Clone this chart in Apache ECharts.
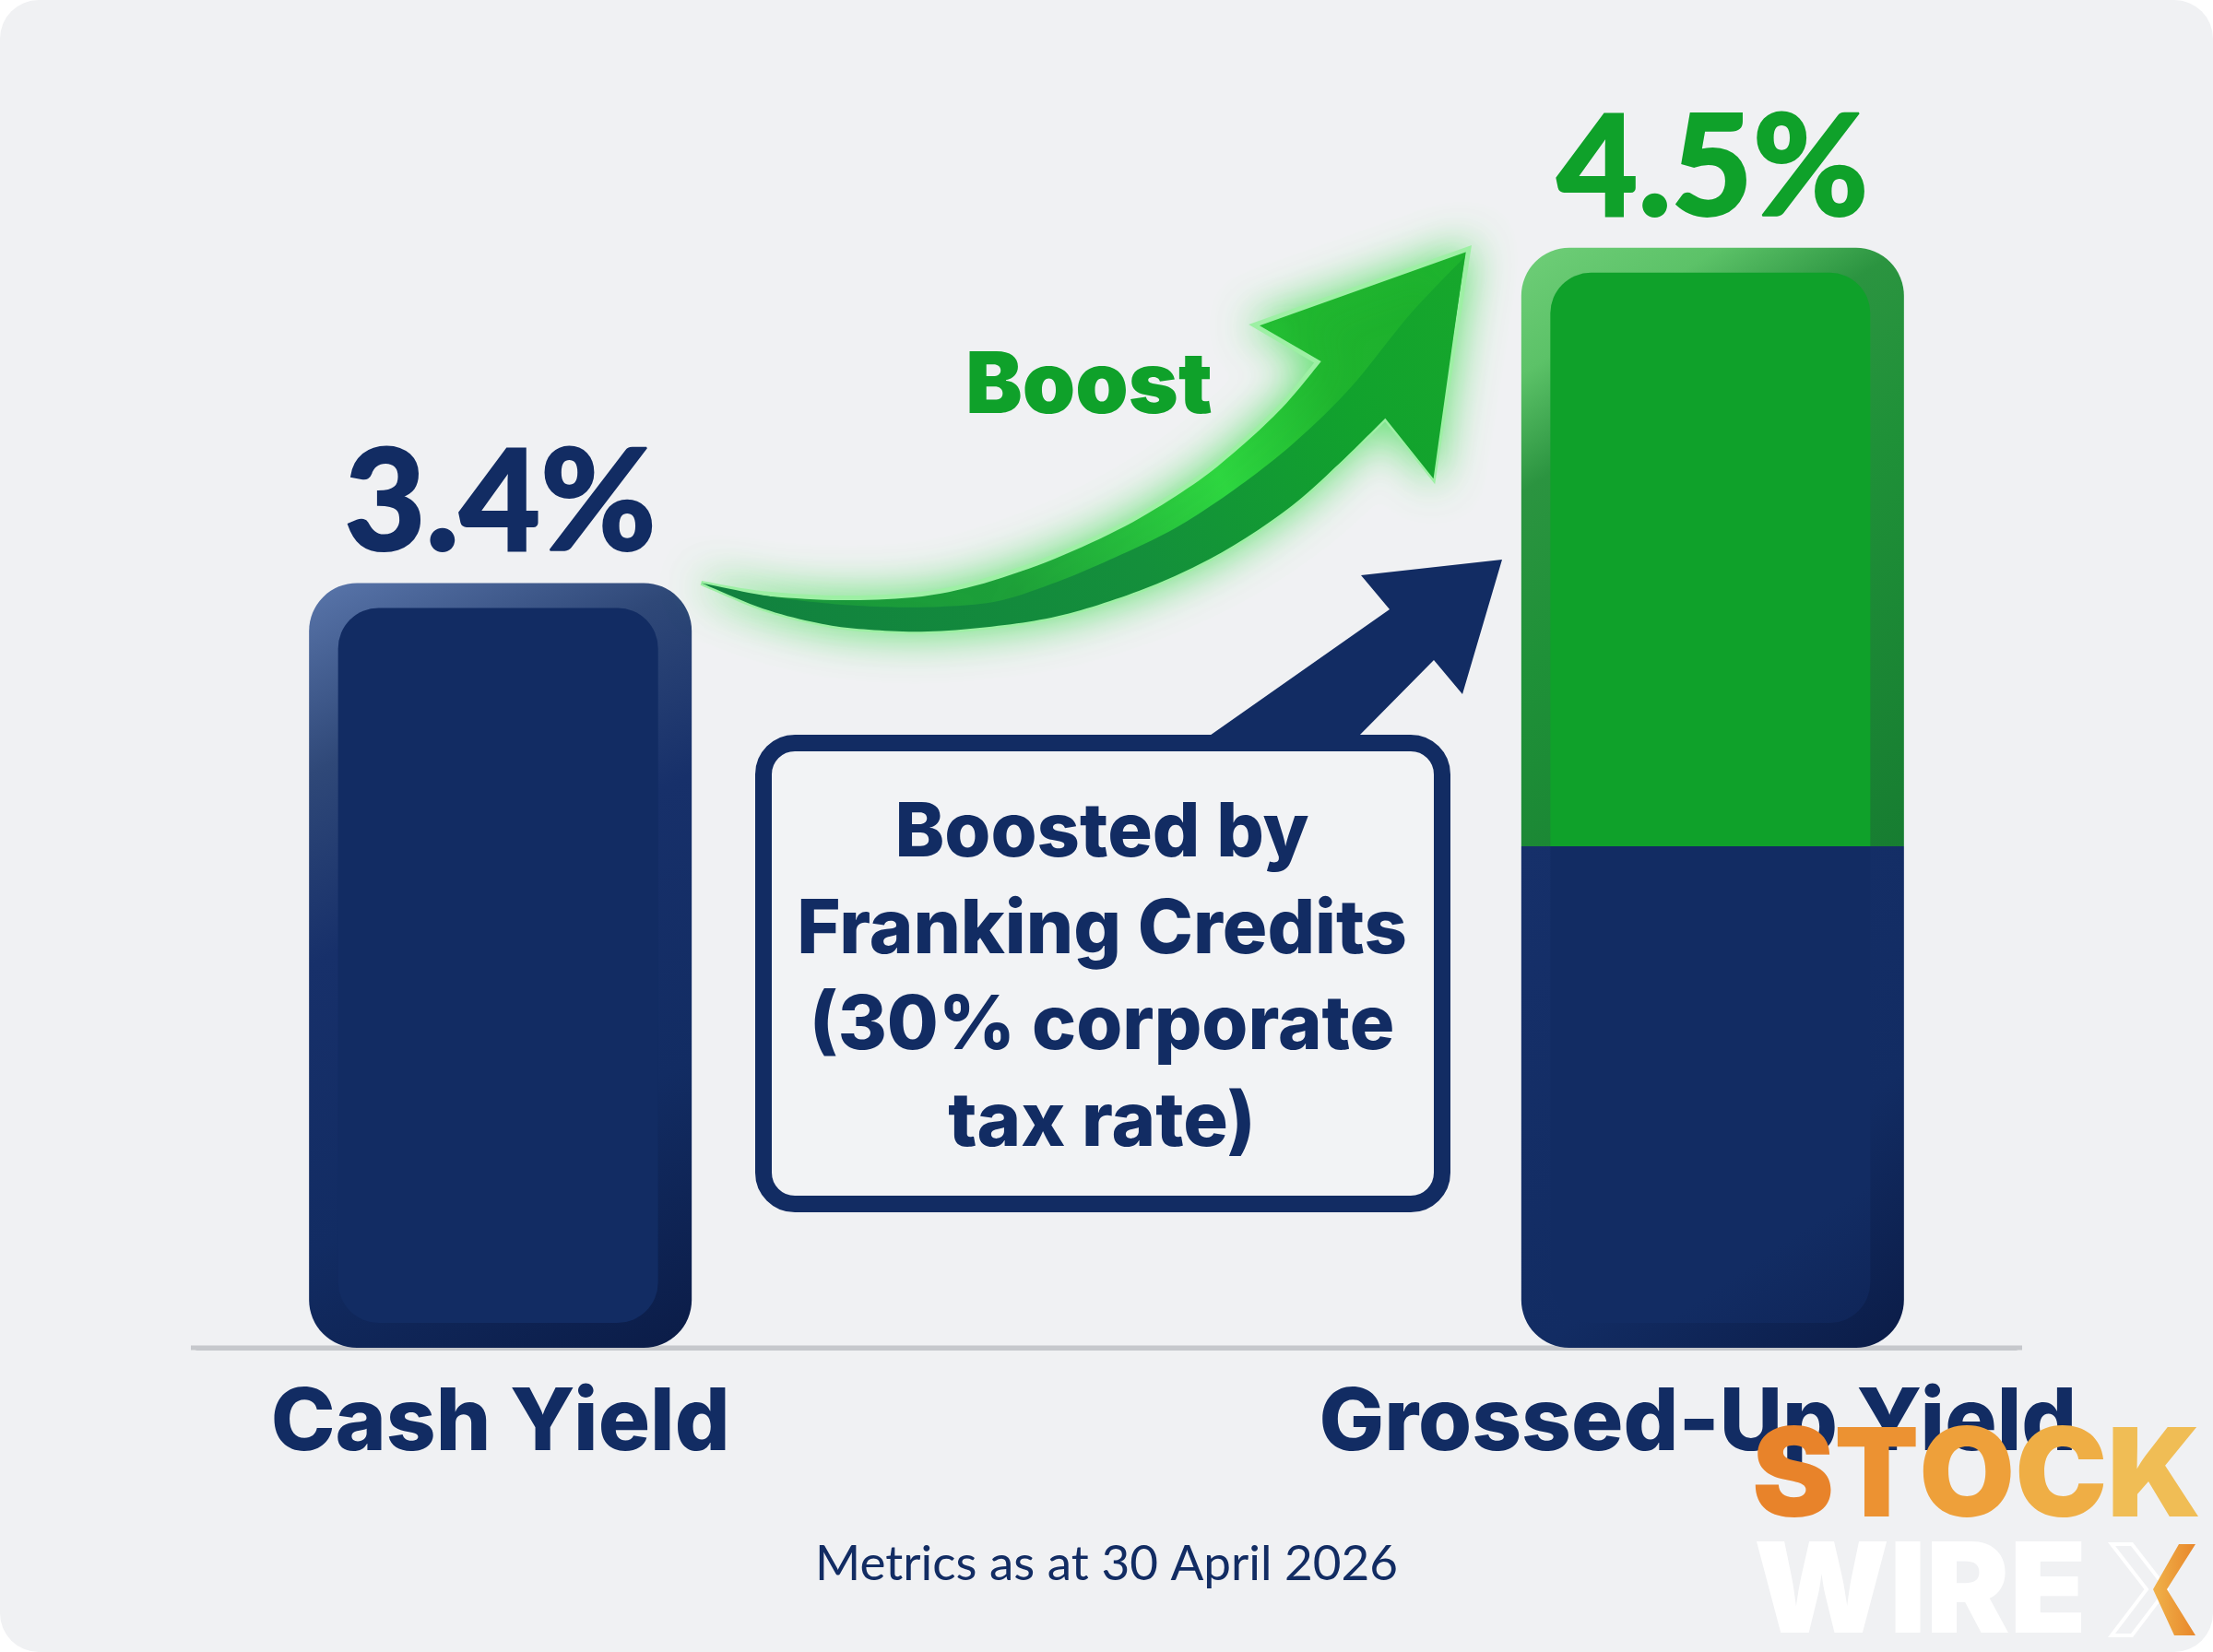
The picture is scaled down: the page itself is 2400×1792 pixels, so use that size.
<!DOCTYPE html>
<html><head><meta charset="utf-8">
<style>html,body{margin:0;padding:0;background:#fff}#c{width:2400px;height:1792px}</style>
<script src="https://cdn.jsdelivr.net/npm/echarts@6/dist/echarts.min.js"></script>
</head><body><div id="c"></div>
<script>
// The middle slot is an empty gap that holds the callout.
const categories = ['Cash Yield', '', 'Grossed-Up Yield'];
// Printed values.
const valueLabels = ['3.4%', null, '4.5%'];
// Segment heights as drawn: the source picture is not to scale with its printed values.
const navyHeights = [3.4, null, 2.23];
const greenHeights = [null, null, 2.66];
const calloutLines = ['Boosted by', 'Franking Credits', '(30% corporate', 'tax rate)'];
const boostLabel = 'Boost';
const footnote = 'Metrics as at 30 April 2026';

const NAVY = '#122c63', GREEN = '#0fa12a', FONT = 'Inter';
const LG = (x, y, x2, y2, stops) => new echarts.graphic.LinearGradient(x, y, x2, y2, stops.map(s => ({offset: s[0], color: s[1]})));

const cashFill = LG(0, 0, 1, 1, [[0, '#5a76ab'], [.2, '#2f4878'], [.4, '#17306a'], [.7, NAVY], [1, '#0b1c47']]);
const navyFill = LG(0, 0, 1, 1, [[0, '#16306a'], [.65, NAVY], [1, '#0b1c47']]);
const greenFill = LG(0, 0, 1, 1, [[0, '#6fce78'], [.15, '#5cc268'], [.29, '#2b9440'], [.5, '#1f9138'], [1, '#177d31']]);

const navySeriesData = navyHeights.map((v, i) => v == null ? null : ({
  value: v,
  itemStyle: {color: i === 0 ? cashFill : navyFill, borderRadius: i === 0 ? [52, 52, 52, 52] : [0, 0, 52, 52]},
  label: {show: i === 0, formatter: valueLabels[i]}
}));
const greenSeriesData = greenHeights.map((v, i) => v == null ? null : ({
  value: v,
  itemStyle: {color: greenFill, borderRadius: [52, 52, 0, 0]},
  label: {show: true, formatter: valueLabels[i], color: GREEN}
}));

// Inner face of each bevelled bar: [category index, low, high, kind]
const faces = [];
navyHeights.forEach((v, i) => { if (v != null) faces.push([i, 0, v, i === 0 ? 0 : 1]); });
greenHeights.forEach((v, i) => { if (v != null) faces.push([i, navyHeights[i] || 0, (navyHeights[i] || 0) + v, 2]); });

function renderFace(params, api) {
  const cat = api.value(0), kind = api.value(3);
  const lo = api.coord([cat, api.value(1)]), hi = api.coord([cat, api.value(2)]);
  const topInset = kind === 1 ? 0 : 27, botInset = kind === 2 ? 0 : 27;
  const left = lo[0] - 176, width = 347;
  const y = hi[1] + topInset, h = lo[1] - botInset - y;
  const r = kind === 0 ? [44, 44, 44, 44] : kind === 1 ? [0, 0, 44, 44] : [44, 44, 0, 0];
  return {type: 'rect', shape: {x: left, y: y, width: width, height: h, r: r},
    style: {fill: kind === 2 ? GREEN : (kind === 1 ? LG(0, 0, 1, 1, [[0, NAVY], [.8, NAVY], [1, '#0f2558']]) : NAVY)}};
}

// Swoosh outline, smoothed with a Catmull-Rom curve through hand-placed points.
function smooth(p) {
  const out = [];
  for (let i = 0; i < p.length - 1; i++) {
    const a = p[Math.max(i - 1, 0)], b = p[i], c = p[i + 1], d = p[Math.min(i + 2, p.length - 1)];
    for (let k = 0; k < 10; k++) {
      const t = k / 10, t2 = t * t, t3 = t2 * t;
      out.push([0, 1].map(j => 0.5 * (2 * b[j] + (c[j] - a[j]) * t + (2 * a[j] - 5 * b[j] + 4 * c[j] - d[j]) * t2 + (3 * b[j] - a[j] - 3 * c[j] + d[j]) * t3)));
    }
  }
  out.push(p[p.length - 1]);
  return out;
}
const place = pts => pts.map(q => [700 + q[0] / 1.568, 200 + q[1] / 2.412]);
const topEdge = place([[95, 1043], [200, 1070], [350, 1082], [500, 1065], [650, 1000], [800, 900], [920, 790], [1000, 695], [1080, 580], [1143, 465]]);
const head = place([[1035, 368], [1400, 168], [1340, 770], [1258, 612]]);
const bottomEdge = place([[1258, 612], [1180, 730], [1100, 840], [1000, 945], [900, 1025], [800, 1085], [700, 1130], [600, 1155], [480, 1170], [380, 1165], [300, 1150], [200, 1110], [95, 1043]]);
const ridge = place([[1393, 190], [1300, 340], [1200, 530], [1100, 680], [1000, 800], [900, 900], [800, 975], [700, 1040], [600, 1090], [500, 1105], [400, 1105], [300, 1095], [200, 1075], [95, 1043]]);
const boostOutline = [...smooth(topEdge), ...head.slice(0, 3), ...smooth(bottomEdge)];
const boostShade = [...smooth(ridge), ...smooth(bottomEdge.slice().reverse()), head[2]];

const graphic = [
  {type: 'rect', z: -10, shape: {x: 0, y: 0, width: 2400, height: 1792, r: 42}, style: {fill: '#f0f1f3'}},
  {type: 'rect', z: -5, shape: {x: 207, y: 1459.5, width: 1986, height: 5}, style: {fill: '#c6c8cc'}},
  // Green swoosh arrow
  {type: 'polygon', z: 5, shape: {points: boostOutline},
    style: {fill: LG(0, 1, 1, 0, [[0, '#158a3c'], [.35, '#1c9c38'], [.62, '#2ed640'], [.78, '#1fb42e'], [1, '#1cae2c']]),
      stroke: '#9df0a4', lineWidth: 5, lineJoin: 'miter', miterLimit: 5, shadowBlur: 46, shadowColor: 'rgba(50,220,70,.75)'}},
  {type: 'polygon', z: 6, shape: {points: boostShade},
    style: {fill: LG(0, 1, 1, 0, [[0, '#11803f'], [.5, '#148f3b'], [.8, '#11a22d'], [1, '#17a72c']])}},
  // Navy arrow rising from the callout
  {type: 'polygon', z: 3, shape: {points: [[1629, 607], [1476, 624], [1507, 661], [1309, 800], [1472, 800], [1555, 716], [1586, 753]]},
    style: {fill: NAVY}},
  // Callout box
  {type: 'rect', z: 4, shape: {x: 828, y: 806, width: 736, height: 500, r: 34},
    style: {fill: '#f2f3f5', stroke: NAVY, lineWidth: 18}},
  ...calloutLines.map((t, i) => ({type: 'text', z: 7, x: 1195, y: 905 + i * 104.5,
    style: {text: t, fill: NAVY, font: `800 81px ${FONT}`, textAlign: 'center', textVerticalAlign: 'middle'}})),
  {type: 'text', z: 7, x: 1181, y: 420,
    style: {text: boostLabel, fill: GREEN, font: `900 92px ${FONT}`, textAlign: 'center', textVerticalAlign: 'middle'}},
  {type: 'text', z: 7, x: 1200, y: 1697,
    style: {text: footnote, fill: NAVY, font: '400 53px Lato', textAlign: 'center', textVerticalAlign: 'middle'}},
  // Watermark
  {type: 'text', z: 100, x: 1900, y: 1605,
    style: {text: '{a|S}{b|T}{c|O}{d|C}{e|K}', font: `900 134px ${FONT}`, textAlign: 'left', textVerticalAlign: 'middle',
      rich: Object.fromEntries(['#e8832a', '#ec9232', '#eea03a', '#efae45', '#f0bd55'].map((c, i) => ['abcde'[i], {fill: c, font: `900 134px ${FONT}`}]))}},
  {type: 'text', z: 100, x: 1902, y: 1730,
    style: {text: 'WIRE', font: `900 136px ${FONT}`, fill: '#ffffff', textAlign: 'left', textVerticalAlign: 'middle'}},
  {type: 'polygon', z: 100, shape: {points: [[2290, 1675], [2312, 1675], [2350, 1724], [2312, 1774], [2290, 1774], [2328, 1724]]},
    style: {fill: 'none', stroke: '#ffffff', lineWidth: 4}},
  {type: 'polygon', z: 101, shape: {points: [[2363, 1675], [2381, 1675], [2350, 1724], [2381, 1774], [2358, 1774], [2335, 1724]]},
    style: {fill: LG(0, 0, 1, 0, [[0, '#f0b24a'], [1, '#e8872b']])}}
];

const valueLabelStyle = {position: 'top', distance: 8, fontFamily: 'Lato', fontWeight: 900, fontSize: 152, textBorderWidth: 2};

const chart = echarts.init(document.getElementById('c'), null, {renderer: 'canvas'});
chart.setOption({
  animation: false,
  backgroundColor: '#ffffff',
  textStyle: {fontFamily: FONT},
  grid: {left: 214, right: 214, top: 120, bottom: 330},
  xAxis: {
    type: 'category', data: categories,
    axisTick: {show: false},
    axisLine: {lineStyle: {color: '#c6c8cc', width: 5}},
    axisLabel: {
      margin: 36, interval: 0, fontFamily: FONT, fontWeight: 800, fontSize: 94, color: NAVY,
      formatter: (v, i) => v ? (i === 2 ? `{g|${v}}` : v) : '',
      rich: {g: {fontFamily: FONT, fontWeight: 800, fontSize: 94, color: NAVY, padding: [0, 32, 0, 0]}}
    }
  },
  yAxis: {type: 'value', min: 0, max: 5.5, show: false},
  series: [
    {name: 'Cash', type: 'bar', stack: 'y', barWidth: 415, data: navySeriesData, z: 2,
      label: {...valueLabelStyle, color: NAVY, textBorderColor: NAVY}},
    {name: 'Boost', type: 'bar', stack: 'y', barWidth: 415, data: greenSeriesData, z: 2,
      label: {...valueLabelStyle, color: GREEN, textBorderColor: GREEN}},
    {name: 'Faces', type: 'custom', data: faces, renderItem: renderFace, z: 3, silent: true,
      encode: {x: 0, y: [1, 2]}}
  ],
  graphic: graphic
});
</script></body></html>
